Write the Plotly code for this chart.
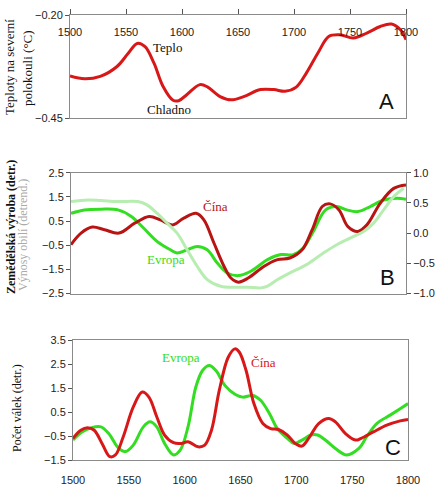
import plotly.graph_objects as go

# ---------------- data ----------------
# Panel A: northern hemisphere temperature
a_years = [1500, 1513, 1527, 1542, 1552, 1560, 1567, 1575, 1583, 1592, 1597, 1604, 1616, 1623,
           1634, 1644, 1655, 1670, 1682, 1692, 1702, 1711, 1722, 1731, 1741, 1753, 1765, 1777,
           1787, 1795, 1800]
a_temp = [-0.348, -0.355, -0.349, -0.325, -0.293, -0.269, -0.277, -0.317, -0.373, -0.407, -0.408,
          -0.394, -0.369, -0.375, -0.398, -0.406, -0.398, -0.381, -0.381, -0.385, -0.375, -0.341,
          -0.289, -0.252, -0.248, -0.256, -0.244, -0.228, -0.222, -0.236, -0.260]

# Panel B: agricultural production (China, Europe) and grain yields
b_china_years = [1500, 1509, 1519, 1530, 1543, 1557, 1570, 1580, 1591, 1601, 1612, 1619, 1628, 1637,
                 1643, 1650, 1659, 1673, 1685, 1696, 1707, 1716, 1725, 1732, 1740, 1748, 1757, 1765,
                 1777, 1789, 1800]
b_china = [-0.48, 0.0, 0.25, 0.14, 0.0, 0.41, 0.69, 0.55, 0.34, 0.62, 0.82, 0.55, -0.41, -1.37,
           -1.85, -2.03, -1.85, -1.37, -1.10, -1.03, -0.69, 0.14, 1.10, 1.21, 0.96, 0.27, 0.07, 0.34,
           1.24, 1.85, 1.99]
b_europe_years = [1500, 1512, 1527, 1542, 1554, 1565, 1577, 1589, 1595, 1604, 1613, 1622, 1631, 1640,
                  1650, 1661, 1676, 1688, 1699, 1708, 1717, 1728, 1738, 1747, 1757, 1768, 1780, 1792,
                  1800]
b_europe = [0.82, 0.96, 0.99, 0.96, 0.69, 0.21, -0.34, -0.69, -0.82, -0.69, -0.55, -0.69, -1.24, -1.65,
            -1.76, -1.58, -1.10, -0.89, -0.89, -0.62, 0.07, 0.96, 1.10, 0.96, 0.89, 1.10, 1.37, 1.44,
            1.40]
b_yield_years = [1500, 1515, 1527, 1542, 1560, 1568, 1577, 1586, 1595, 1604, 1613, 1622, 1634, 1646,
                 1658, 1670, 1676, 1685, 1696, 1711, 1726, 1738, 1750, 1762, 1771, 1780, 1789, 1798]
b_yield = [0.522, 0.549, 0.538, 0.522, 0.522, 0.467, 0.330, 0.165, 0.0, -0.275, -0.549, -0.769, -0.879,
           -0.896, -0.896, -0.907, -0.879, -0.769, -0.659, -0.522, -0.330, -0.192, -0.082, 0.027,
           0.165, 0.385, 0.604, 0.742]

# Panel C: number of wars
c_china_years = [1500, 1507, 1513, 1519, 1526, 1533, 1538, 1545, 1554, 1562, 1568, 1575, 1582, 1590,
                 1597, 1603, 1612, 1618, 1624, 1631, 1639, 1645, 1649, 1655, 1662, 1670, 1677, 1684,
                 1692, 1699, 1705, 1711, 1720, 1729, 1735, 1744, 1753, 1758, 1769, 1781, 1793, 1800]
c_china = [-0.60, -0.26, -0.16, -0.26, -0.81, -1.36, -1.29, -0.53, 0.71, 1.33, 1.12, 0.30, -0.46, -0.78,
           -0.81, -0.74, -0.95, -0.88, -0.26, 1.40, 2.78, 3.13, 2.99, 2.23, 0.85, 0.02, -0.19, -0.23,
           -0.46, -0.81, -0.92, -0.60, 0.02, 0.23, 0.09, -0.40, -0.67, -0.60, -0.33, -0.05, 0.13, 0.19]
c_europe_years = [1500, 1508, 1517, 1525, 1532, 1541, 1547, 1554, 1563, 1569, 1575, 1582, 1590, 1596,
                  1603, 1610, 1616, 1622, 1628, 1636, 1645, 1652, 1661, 1668, 1676, 1683, 1692, 1698,
                  1705, 1713, 1719, 1726, 1735, 1745, 1756, 1763, 1772, 1784, 1793, 1800]
c_europe = [-0.67, -0.33, -0.15, -0.12, -0.40, -1.02, -1.15, -0.88, -0.12, 0.09, -0.12, -0.81, -1.29,
            -1.09, -0.12, 1.54, 2.23, 2.44, 2.23, 1.61, 1.24, 1.12, 1.19, 0.99, 0.43, -0.19, -0.60,
            -0.81, -0.67, -0.46, -0.46, -0.67, -1.02, -1.29, -1.02, -0.53, 0.02, 0.37, 0.64, 0.85]

x_ticks = [1500, 1550, 1600, 1650, 1700, 1750, 1800]
a_yticks = [-0.20, -0.45]
b_yticks = [-2.5, -1.5, -0.5, 0.5, 1.5, 2.5]
b_y2ticks = [-1.0, -0.5, 0.0, 0.5, 1.0]
c_yticks = [-1.5, -0.5, 0.5, 1.5, 2.5, 3.5]

# ---------------- styles ----------------
W, H = 442, 496
RED = "#d81818"
DARKRED = "#b81414"
GREEN = "#33dd22"
LIGHTGREEN = "#b8edb2"
AXC = "#8a8a8a"
SANS = "Liberation Sans, Arial, sans-serif"
SERIF = "Liberation Serif, Times New Roman, serif"
TICKFONT = dict(family=SANS, size=11, color="#222")


def px_x(p):
    return p / W


def px_y(p):
    return 1 - p / H


fig = go.Figure()
lw = 3
fig.add_trace(go.Scatter(x=a_years, y=a_temp, mode="lines", line=dict(color=RED, width=lw, shape="spline"),
                         xaxis="x", yaxis="y", showlegend=False))
fig.add_trace(go.Scatter(x=b_yield_years, y=b_yield, mode="lines",
                         line=dict(color=LIGHTGREEN, width=lw, shape="spline"),
                         xaxis="x2", yaxis="y4", showlegend=False))
fig.add_trace(go.Scatter(x=b_europe_years, y=b_europe, mode="lines", line=dict(color=GREEN, width=lw, shape="spline"),
                         xaxis="x2", yaxis="y2", showlegend=False))
fig.add_trace(go.Scatter(x=b_china_years, y=b_china, mode="lines", line=dict(color=DARKRED, width=lw, shape="spline"),
                         xaxis="x2", yaxis="y2", showlegend=False))
fig.add_trace(go.Scatter(x=c_europe_years, y=c_europe, mode="lines", line=dict(color=GREEN, width=lw, shape="spline"),
                         xaxis="x3", yaxis="y3", showlegend=False))
fig.add_trace(go.Scatter(x=c_china_years, y=c_china, mode="lines", line=dict(color=RED, width=lw, shape="spline"),
                         xaxis="x3", yaxis="y3", showlegend=False))
# invisible trace to carry the label-only axis of panel A
fig.add_trace(go.Scatter(x=[1500, 1800], y=[-0.3, -0.3], mode="lines", line=dict(width=0),
                         opacity=0, hoverinfo="skip", xaxis="x4", yaxis="y", showlegend=False))

common_x = dict(range=[1500, 1800], showgrid=False, zeroline=False, showline=True, linecolor=AXC,
                linewidth=1, mirror=True, tickfont=TICKFONT, tickvals=x_ticks, automargin=False)
common_y = dict(showgrid=False, zeroline=False, showline=True, linecolor=AXC, linewidth=1, mirror=True,
                tickfont=TICKFONT, ticks="outside", ticklen=4, tickcolor="#555", automargin=False)

fig.update_layout(
    width=W, height=H, margin=dict(l=0, r=0, t=0, b=0),
    paper_bgcolor="white", plot_bgcolor="white",
    xaxis=dict(common_x, domain=[px_x(70), px_x(406)], anchor="y", side="top", ticks="outside",
               ticklen=5, tickcolor="#555", showticklabels=False),
    xaxis4=dict(range=[1500, 1800], domain=[px_x(70), px_x(406)], anchor="free", position=px_y(24),
                side="bottom", overlaying="x", showline=False, showgrid=False, zeroline=False, ticks="",
                tickvals=x_ticks, tickfont=TICKFONT, automargin=False),
    yaxis=dict(common_y, domain=[px_y(118), px_y(15)], anchor="x", range=[-0.45, -0.20],
               tickvals=a_yticks, tickformat=".2f"),
    xaxis2=dict(common_x, domain=[px_x(71), px_x(406)], anchor="y2", showticklabels=False, ticks=""),
    yaxis2=dict(common_y, domain=[px_y(293.5), px_y(172.7)], anchor="x2", range=[-2.5, 2.5],
                tickvals=b_yticks, tickformat=".1f"),
    yaxis4=dict(common_y, overlaying="y2", side="right", anchor="x2", range=[-1.0, 1.0],
                tickvals=b_y2ticks, tickformat=".1f", mirror=False),
    xaxis3=dict(common_x, domain=[px_x(73), px_x(408)], anchor="y3", ticks="", ticklabelstandoff=10),
    yaxis3=dict(common_y, domain=[px_y(460), px_y(340)], anchor="x3", range=[-1.5, 3.5],
                tickvals=c_yticks, tickformat=".1f"),
)

ann = []


def side_title(text, xp, yp, color, size=12):
    ann.append(dict(text=text, x=px_x(xp), y=px_y(yp), xref="paper", yref="paper", xanchor="center",
                    yanchor="middle", textangle=-90, showarrow=False,
                    font=dict(family=SERIF, size=size, color=color)))


side_title("Teploty na severní", 10, 67, "#111", 13)
side_title("polokouli (°C)", 27, 68, "#111", 13)
side_title("<b>Zemědělská výroba (detr.)</b>", 11, 227, "#111", 12)
side_title("Výnosy obilí (detrend.)", 23, 235, "#aaaaaa", 12)
side_title("Počet válek (detr.)", 17, 408, "#111", 12)


def label(text, x, y, xref, yref, color, family=SERIF, size=13):
    ann.append(dict(text=text, x=x, y=y, xref=xref, yref=yref, xanchor="center", yanchor="middle",
                    showarrow=False, font=dict(family=family, size=size, color=color)))


label("Teplo", 1587, -0.278, "x", "y", "#111")
label("Chladno", 1588, -0.43, "x", "y", "#111")
label("A", 1783, -0.411, "x", "y", "#111", SANS, 22)
label("Čína", 1629, 1.12, "x2", "y2", DARKRED)
label("Evropa", 1585, -1.11, "x2", "y2", GREEN)
label("B", 1783, -1.82, "x2", "y2", "#111", SANS, 22)
label("Evropa", 1597, 2.79, "x3", "y3", GREEN)
label("Čína", 1671, 2.58, "x3", "y3", RED)
label("C", 1787, -0.96, "x3", "y3", "#111", SANS, 22)
fig.update_layout(annotations=ann)

fig.write_html("out.html", config={"displayModeBar": False},
               post_script="document.body.style.margin='0';document.body.style.overflow='hidden';")
